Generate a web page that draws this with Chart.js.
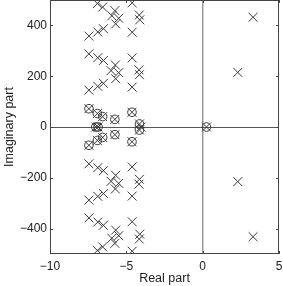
<!DOCTYPE html>
<html>
<head>
<meta charset="utf-8">
<script src="https://cdn.jsdelivr.net/npm/chart.js@4"></script>
<style>
  html, body { margin: 0; padding: 0; background: #fff; }
  canvas { display: block; }
</style>
</head>
<body>
<canvas id="pz" width="283" height="286"></canvas>
<script>
// Pole locations (real / imaginary parts)
const poleRe = [
  -6.9, -6.55, -5.75, -5.95, -5.5, -5.7, -4.62, -4.15, -4.12, -4.62, -7.45, -6.87, -6.5,
  -7.45, -6.87, -6.5, -5.72, -6.0, -5.5, -5.7, -4.62, -4.17, -4.14, -4.62, -7.45, -6.87, -6.5,
  -7.45, -6.9, -6.55, -5.75, -4.63, -4.14, -7.0, -6.85, -4.05, 0.25, -4.14, -4.63, -5.75, -6.55, -6.9, -7.45,
  -7.45, -6.87, -6.5, -5.7, -6.0, -5.5, -5.72, -4.62, -4.14, -4.17, -4.62, -7.45, -6.87, -6.5,
  -6.5, -6.87, -7.45, -4.62, -4.12, -4.15, -4.62, -5.7, -5.5, -5.95, -5.75, -6.55, -6.9,
  3.3, 2.3, 2.3, 3.3
];
const poleIm = [
  486, 472, 458, 438, 428, 406, 489, 441, 422, 373, 358, 374, 387,
  288, 273, 262, 244, 222, 214, 190, 272, 225, 206, 157, 145, 160, 172,
  72, 53, 41, 30, 58, 12, 0, 0, 0, 0, -12, -58, -30, -41, -53, -72,
  -145, -160, -172, -190, -214, -222, -244, -157, -206, -225, -272, -288, -273, -262,
  -387, -374, -358, -373, -422, -441, -489, -406, -428, -438, -458, -472, -486,
  432, 215, -215, -432
];

// Zero locations
const zeroRe = [-7.45, -6.9, -6.55, -5.75, -4.63, -4.14, -7.0, -6.85, 0.25, -4.14, -4.63, -5.75, -6.55, -6.9, -7.45];
const zeroIm = [72, 53, 41, 30, 58, 12, 0, 0, 0, -12, -58, -30, -41, -53, -72];

const xTicks = [-10, -5, 0, 5];
const yTicks = [-400, -200, 0, 200, 400];

const toPoints = (re, im) => re.map((v, i) => ({ x: v, y: im[i] }));
const fmt = v => (v < 0 ? '\u2212' + Math.abs(v) : String(v));

Chart.defaults.font.family = '"Liberation Sans", Arial, sans-serif';
Chart.defaults.font.size = 12;
Chart.defaults.color = '#222';

// box around plot area plus MATLAB-style inward ticks
const framePlugin = {
  id: 'frame',
  afterDraw(chart) {
    const { ctx, chartArea: a, scales: { x, y } } = chart;
    ctx.save();
    ctx.strokeStyle = '#444';
    ctx.lineWidth = 1;
    ctx.strokeRect(a.left + 0.5, a.top + 0.5, a.right - a.left - 1, a.bottom - a.top - 1);
    ctx.beginPath();
    x.ticks.forEach(t => {
      const px = Math.round(x.getPixelForValue(t.value)) + 0.5;
      ctx.moveTo(px, a.bottom); ctx.lineTo(px, a.bottom - 3);
      ctx.moveTo(px, a.top); ctx.lineTo(px, a.top + 3);
    });
    y.ticks.forEach(t => {
      const py = Math.round(y.getPixelForValue(t.value)) + 0.5;
      ctx.moveTo(a.left, py); ctx.lineTo(a.left + 3, py);
      ctx.moveTo(a.right, py); ctx.lineTo(a.right - 3, py);
    });
    ctx.stroke();
    ctx.restore();
  }
};

new Chart(document.getElementById('pz'), {
  type: 'scatter',
  data: {
    datasets: [
      {
        label: 'Zeros',
        data: toPoints(zeroRe, zeroIm),
        pointStyle: 'circle',
        pointRadius: 4.3,
        borderColor: '#3a3a3a',
        backgroundColor: 'rgba(0,0,0,0)',
        borderWidth: 1
      },
      {
        label: 'Poles',
        data: toPoints(poleRe, poleIm),
        pointStyle: 'crossRot',
        pointRadius: 6.3,
        borderColor: '#3a3a3a',
        borderWidth: 1
      }
    ]
  },
  options: {
    responsive: false,
    animation: false,
    layout: { autoPadding: false, padding: { left: 0, right: 4, top: 0, bottom: 0 } },
    plugins: { legend: { display: false }, tooltip: { enabled: false } },
    scales: {
      x: {
        type: 'linear',
        min: -10,
        max: 5,
        afterBuildTicks: s => { s.ticks = xTicks.map(v => ({ value: v })); },
        afterFit: s => { s.height = 32; s.paddingLeft = 0; s.paddingRight = 0; },
        ticks: { padding: 5, callback: v => fmt(v), maxRotation: 0 },
        grid: {
          drawTicks: false,
          lineWidth: 1.5,
          color: c => (c.tick && c.tick.value === 0 ? '#9a9a9a' : 'rgba(0,0,0,0)')
        },
        border: { display: false },
        title: { display: true, text: 'Real part', font: { size: 12.5 }, padding: { top: 0, bottom: 0 } }
      },
      y: {
        type: 'linear',
        min: -500,
        max: 500,
        afterBuildTicks: s => { s.ticks = yTicks.map(v => ({ value: v })); },
        afterFit: s => { s.width = 50; s.paddingTop = 0; s.paddingBottom = 0; },
        ticks: { padding: 3, callback: v => fmt(v) },
        grid: {
          drawTicks: false,
          lineWidth: 1,
          color: c => (c.tick && c.tick.value === 0 ? '#555' : 'rgba(0,0,0,0)')
        },
        border: { display: false },
        title: { display: true, text: 'Imaginary part', font: { size: 12.5 }, padding: { top: 2, bottom: 0 } }
      }
    }
  },
  plugins: [framePlugin]
});
</script>
</body>
</html>
